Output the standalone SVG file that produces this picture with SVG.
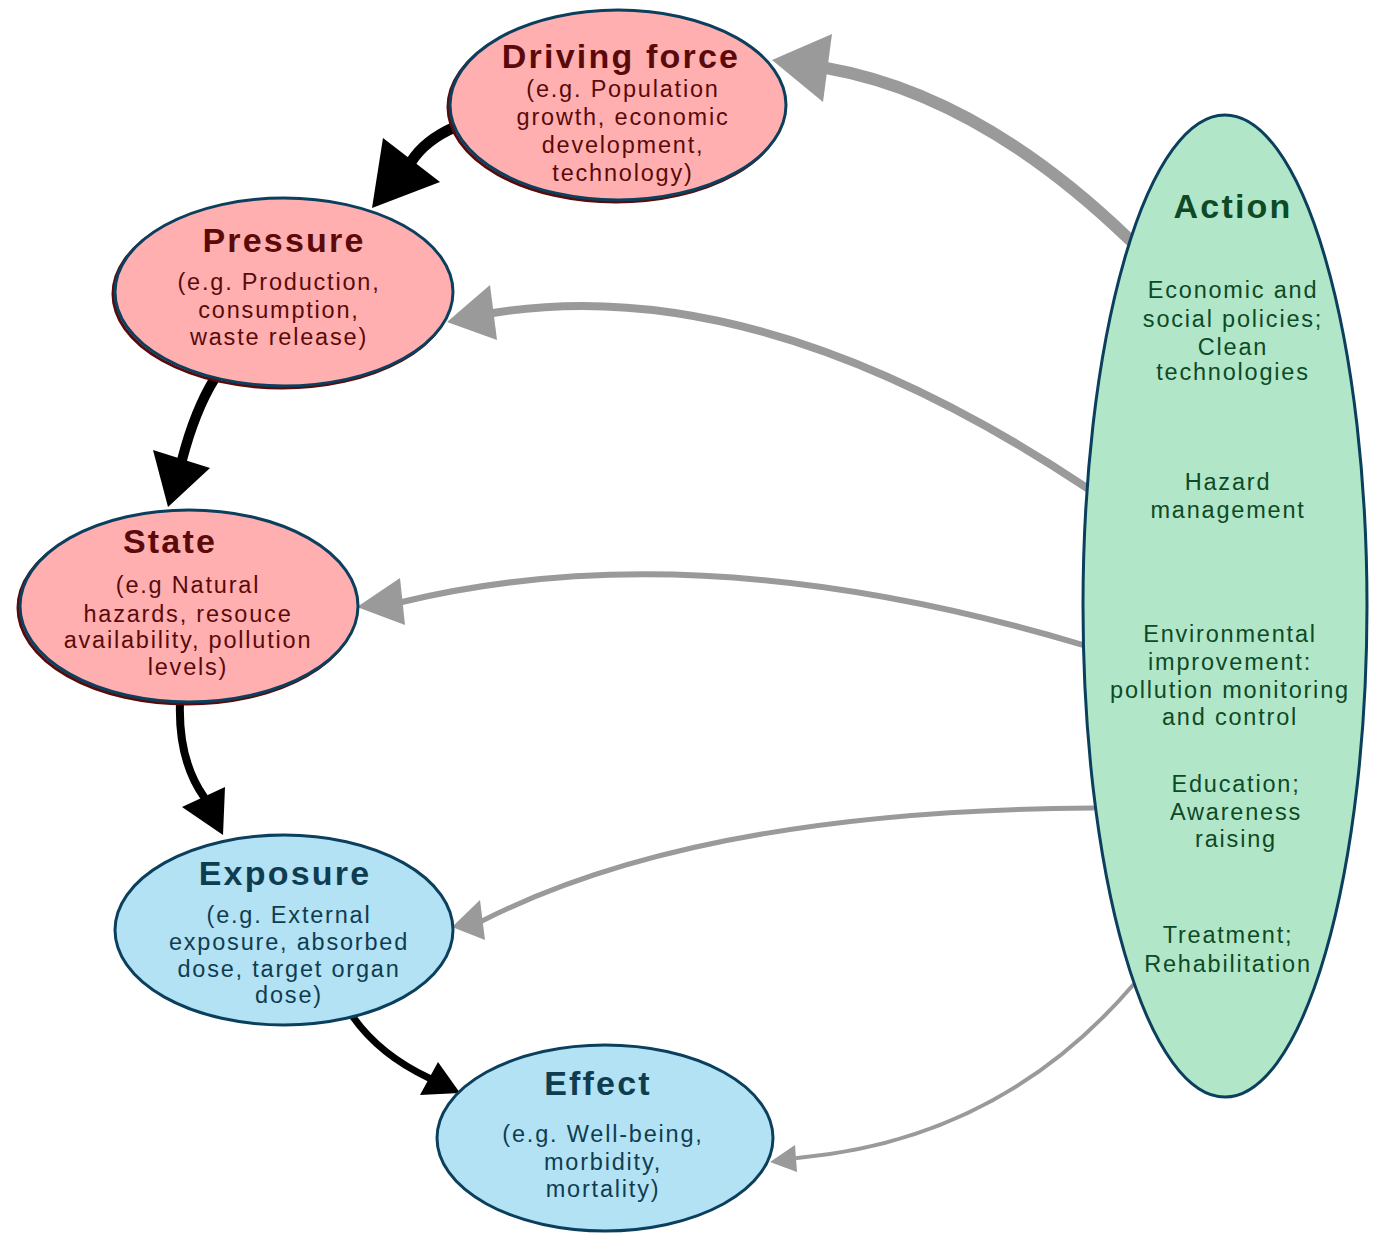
<svg xmlns="http://www.w3.org/2000/svg" width="1375" height="1234" viewBox="0 0 1375 1234">
<style>
.node{stroke:#0b3f5e;stroke-width:3}
.pink{fill:#ffafaf}
.blue{fill:#b3e2f5}
.green{fill:#b2e6c8}
.shadow{fill:none;stroke:#5a0a0a;stroke-width:3}
text{font-family:"Liberation Sans",Arial,sans-serif;text-anchor:middle}
.t{font-size:34px;font-weight:bold;letter-spacing:2.2px}
.s{font-size:23.5px;letter-spacing:1.8px}
.pt{fill:#5a0a0a}
.bt{fill:#0f3d50}
.gt{fill:#0d4a26}
.blk{fill:none;stroke:#000;stroke-linecap:round}
.gry{fill:none;stroke:#9a9a9a;stroke-linecap:round}
.bh{fill:#000}
.gh{fill:#9a9a9a}
</style>
<g id="connectors">
<path class="blk" stroke-width="11" d="M455,127 Q425,140 411,162"/>
<polygon class="bh" points="372,208 383,138 440,182"/>
<path class="blk" stroke-width="10" d="M215,378 Q195,410 182,460"/>
<polygon class="bh" points="168,507 153,450 210,468"/>
<path class="blk" stroke-width="8" d="M180,702 Q178,760 204,797"/>
<polygon class="bh" points="223,835 182,807 225,787"/>
<path class="blk" stroke-width="7" d="M353,1017 Q380,1055 429,1078"/>
<polygon class="bh" points="460,1093 420,1095 438,1062"/>
<path class="gry" stroke-width="12" d="M1130,240 Q980,95 826,68"/>
<polygon class="gh" points="772,60 832,34 823,102"/>
<path class="gry" stroke-width="8" d="M1087,488 Q760,270 493,313"/>
<polygon class="gh" points="447,322 490,285 497,340"/>
<path class="gry" stroke-width="6" d="M1083,645 Q700,530 402,602"/>
<polygon class="gh" points="357,607 400,578 405,625"/>
<path class="gry" stroke-width="5" d="M1093,808 Q700,810 482,921"/>
<polygon class="gh" points="452,927 480,900 485,940"/>
<path class="gry" stroke-width="4" d="M1133,985 Q1000,1140 797,1158"/>
<polygon class="gh" points="770,1162 795,1145 797,1172"/>
</g>
<g id="driving-force">
<ellipse class="shadow" cx="616" cy="107" rx="168" ry="95"/>
<ellipse class="node pink" cx="618" cy="105" rx="168" ry="95"/>
<text class="t pt" x="621" y="68">Driving force</text>
<text class="s pt"><tspan x="623" y="97">(e.g. Population</tspan><tspan x="623" y="125">growth, economic</tspan><tspan x="623" y="153">development,</tspan><tspan x="623" y="181">technology)</tspan></text>
</g>
<g id="pressure">
<ellipse class="shadow" cx="282" cy="294" rx="169" ry="94"/>
<ellipse class="node pink" cx="284" cy="292" rx="169" ry="94"/>
<text class="t pt" x="284" y="252">Pressure</text>
<text class="s pt"><tspan x="279" y="290">(e.g. Production,</tspan><tspan x="279" y="318">consumption,</tspan><tspan x="279" y="345">waste release)</tspan></text>
</g>
<g id="state">
<ellipse class="shadow" cx="187" cy="608" rx="169" ry="96"/>
<ellipse class="node pink" cx="189" cy="606" rx="169" ry="96"/>
<text class="t pt" x="170" y="553">State</text>
<text class="s pt"><tspan x="188" y="593">(e.g Natural</tspan><tspan x="188" y="622">hazards, resouce</tspan><tspan x="188" y="648">availability, pollution</tspan><tspan x="188" y="675">levels)</tspan></text>
</g>
<g id="exposure">
<ellipse class="node blue" cx="284" cy="930" rx="169" ry="95"/>
<text class="t bt" x="285" y="885">Exposure</text>
<text class="s bt"><tspan x="289" y="923">(e.g. External</tspan><tspan x="289" y="950">exposure, absorbed</tspan><tspan x="289" y="977">dose, target organ</tspan><tspan x="289" y="1003">dose)</tspan></text>
</g>
<g id="effect">
<ellipse class="node blue" cx="605" cy="1138" rx="168" ry="93"/>
<text class="t bt" x="598" y="1095">Effect</text>
<text class="s bt"><tspan x="603" y="1142">(e.g. Well-being,</tspan><tspan x="603" y="1170">morbidity,</tspan><tspan x="603" y="1197">mortality)</tspan></text>
</g>
<g id="action">
<ellipse class="node green" cx="1225" cy="606" rx="142" ry="491"/>
<text class="t gt" x="1233" y="218">Action</text>
<text class="s gt"><tspan x="1233" y="298">Economic and</tspan><tspan x="1233" y="327">social policies;</tspan><tspan x="1233" y="355">Clean</tspan><tspan x="1233" y="380">technologies</tspan></text>
<text class="s gt"><tspan x="1228" y="490">Hazard</tspan><tspan x="1228" y="518">management</tspan></text>
<text class="s gt"><tspan x="1230" y="642">Environmental</tspan><tspan x="1230" y="670">improvement:</tspan><tspan x="1230" y="698">pollution monitoring</tspan><tspan x="1230" y="725">and control</tspan></text>
<text class="s gt"><tspan x="1236" y="792">Education;</tspan><tspan x="1236" y="820">Awareness</tspan><tspan x="1236" y="847">raising</tspan></text>
<text class="s gt"><tspan x="1228" y="943">Treatment;</tspan><tspan x="1228" y="972">Rehabilitation</tspan></text>
</g>
</svg>
